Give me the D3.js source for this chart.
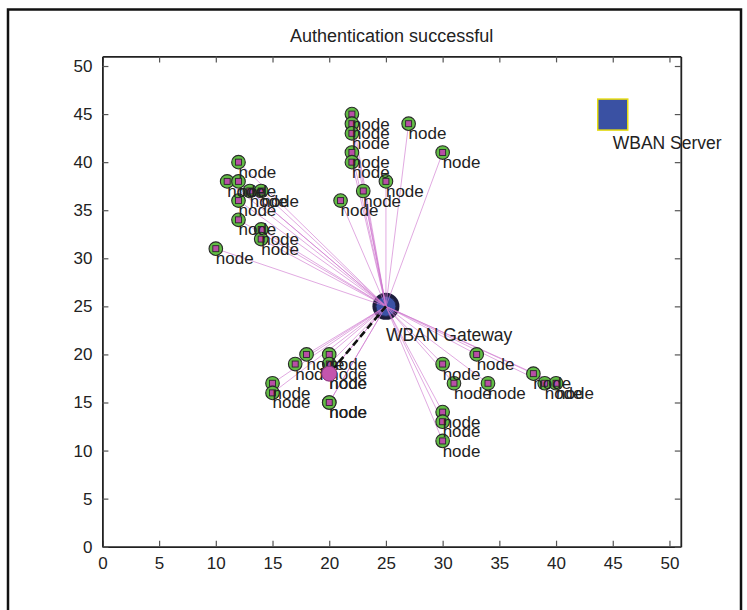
<!DOCTYPE html>
<html>
<head>
<meta charset="utf-8">
<script src="https://cdn.jsdelivr.net/npm/d3@7"></script>
<style>
  html, body { margin: 0; padding: 0; background: #fff; }
  svg { display: block; }
  text { font-family: "Liberation Sans", Arial, Helvetica, sans-serif; fill: #222; }
</style>
</head>
<body>
<svg id="chart" width="747" height="610"></svg>
<script>
// Sensor node coordinates (x, y); a few positions hold two nodes
const nodeX = [12, 11, 12, 13, 14, 12, 12, 14, 14, 10,
               22, 22, 22, 22, 22, 27, 30, 25, 23, 21,
               18, 20, 17, 20, 15, 15, 20, 20, 20, 20,
               33, 30, 31, 34, 38, 39, 40, 30, 30, 30];
const nodeY = [40, 38, 38, 37, 37, 36, 34, 33, 32, 31,
               45, 44, 43, 41, 40, 44, 41, 38, 37, 36,
               20, 20, 19, 19, 17, 16, 15, 15, 18, 18,
               20, 19, 17, 17, 18, 17, 17, 14, 13, 11];
const nodeLabel = "node";

// Gateway, server and the node currently being authenticated
const gateway = { x: 25, y: 25, label: "WBAN Gateway", labelY: 22 };
const server  = { x: 45, y: 45, label: "WBAN Server",  labelY: 42 };
const activeNode = { x: 20, y: 18 };

const axisDomain = [0, 51];
const tickValues = [0, 5, 10, 15, 20, 25, 30, 35, 40, 45, 50];
const titleText = "Authentication successful";

(function draw() {
  const svg = d3.select("#chart");
  const pLeft = 102.4, pRight = 680.8, pTop = 56.4, pBottom = 546.7;

  const x = d3.scaleLinear().domain(axisDomain).range([pLeft, pRight]);
  const y = d3.scaleLinear().domain(axisDomain).range([pBottom, pTop]);

  // Figure frame
  svg.append("path")
    .attr("d", "M8,610 L8,9.5 L741,9.5 L741,610")
    .attr("fill", "none").attr("stroke", "#111").attr("stroke-width", 2.5);

  // Title
  svg.append("text")
    .attr("x", (pLeft + pRight) / 2).attr("y", 42)
    .attr("text-anchor", "middle")
    .attr("font-size", 18)
    .text(titleText);

  // Axes with inward ticks on all four sides
  const tickLen = 6;
  const axes = [
    { gen: d3.axisBottom(x), tr: `translate(0,${pBottom})`, labels: true },
    { gen: d3.axisTop(x),    tr: `translate(0,${pTop})`,    labels: false },
    { gen: d3.axisLeft(y),   tr: `translate(${pLeft},0)`,   labels: true },
    { gen: d3.axisRight(y),  tr: `translate(${pRight},0)`,  labels: false }
  ];
  axes.forEach(a => {
    const g = svg.append("g").attr("transform", a.tr)
      .call(a.gen.tickValues(tickValues).tickSizeInner(-tickLen).tickSizeOuter(0)
        .tickPadding(a.labels ? 10 : 0).tickFormat(a.labels ? d3.format("d") : () => ""));
    g.select(".domain").attr("stroke", "#222").attr("stroke-width", 1.8);
    g.selectAll(".tick line").attr("stroke", "#555").attr("stroke-width", 1.2);
    g.selectAll(".tick text").attr("font-size", 17)
      .attr("font-family", "'Liberation Sans', Arial, sans-serif").attr("fill", "#222");
  });

  const plot = svg.append("g");

  // Gateway marker
  plot.append("circle")
    .attr("cx", x(gateway.x)).attr("cy", y(gateway.y)).attr("r", 13.5)
    .attr("fill", "#1d1d3c");
  plot.append("circle")
    .attr("cx", x(gateway.x)).attr("cy", y(gateway.y)).attr("r", 10)
    .attr("fill", "#3a52a6").attr("stroke", "#222a55").attr("stroke-width", 1);

  const nodes = nodeX.map((v, i) => ({ x: v, y: nodeY[i] }));

  // Links from every node to the gateway
  plot.selectAll(".link").data(nodes).enter().append("line")
    .attr("class", "link")
    .attr("x1", d => x(d.x)).attr("y1", d => y(d.y))
    .attr("x2", x(gateway.x)).attr("y2", y(gateway.y))
    .attr("stroke", "#cf78cf").attr("stroke-width", 0.7).attr("stroke-opacity", 0.9);

  // Node markers: green disc with a magenta square
  const ng = plot.selectAll(".node").data(nodes).enter().append("g")
    .attr("class", "node")
    .attr("transform", d => `translate(${x(d.x)},${y(d.y)})`);
  ng.append("circle").attr("r", 6.8)
    .attr("fill", "#62bd45").attr("stroke", "#2a2a2a").attr("stroke-width", 1.1);
  ng.append("rect").attr("x", -3).attr("y", -3).attr("width", 6).attr("height", 6)
    .attr("fill", "#b84ea6").attr("stroke", "#2a2a2a").attr("stroke-width", 0.9);

  // Node labels, one unit below each node
  plot.selectAll(".nlabel").data(nodes).enter().append("text")
    .attr("class", "nlabel")
    .attr("x", d => x(d.x)).attr("y", d => y(d.y - 1))
    .attr("dy", "0.35em")
    .attr("font-size", 17)
    .text(nodeLabel);

  // Authentication path from gateway to the active node
  plot.append("line")
    .attr("x1", x(gateway.x)).attr("y1", y(gateway.y))
    .attr("x2", x(activeNode.x)).attr("y2", y(activeNode.y))
    .attr("stroke", "#111").attr("stroke-width", 2.6).attr("stroke-dasharray", "7,4");

  plot.append("circle")
    .attr("cx", x(activeNode.x)).attr("cy", y(activeNode.y)).attr("r", 7.5)
    .attr("fill", "#c455ad").attr("stroke", "#8c3a80").attr("stroke-width", 1);

  // Gateway label
  plot.append("text")
    .attr("x", x(gateway.x)).attr("y", y(gateway.labelY)).attr("dy", "0.35em")
    .attr("font-size", 17.5).text(gateway.label);

  // Server marker and label
  const sSize = 30;
  plot.append("rect")
    .attr("x", x(server.x) - sSize / 2).attr("y", y(server.y) - sSize / 2)
    .attr("width", sSize).attr("height", sSize + 1)
    .attr("fill", "#3a51a3").attr("stroke", "#e6dc10").attr("stroke-width", 1.5);
  plot.append("text")
    .attr("x", x(server.x)).attr("y", y(server.labelY)).attr("dy", "0.35em")
    .attr("font-size", 17.5).text(server.label);
})();
</script>
</body>
</html>
